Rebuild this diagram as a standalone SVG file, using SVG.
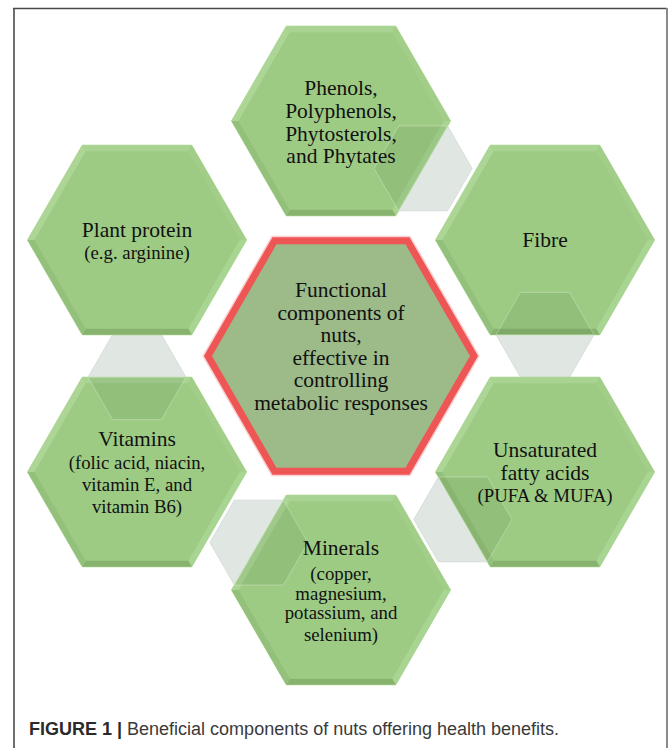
<svg xmlns="http://www.w3.org/2000/svg" xmlns:xlink="http://www.w3.org/1999/xlink" width="669" height="748" viewBox="0 0 669 748">
<style>
.t{font-family:"Liberation Serif","Times New Roman",serif;fill:#111;text-anchor:middle}
.m{font-size:21.5px}
.s{font-size:18.8px}
.cap{font-family:"Liberation Sans",Arial,sans-serif;font-size:18px;fill:#3a3a3a}
.conn{fill:#e0e7e3;stroke:#cfd9d3;stroke-width:0.8}
.ov{fill:#2f5a2c;fill-opacity:0.1;stroke:#ffffff;stroke-opacity:0.35;stroke-width:0.8}
</style>
<defs>
<g id="hex">
<polygon points="109.5,0 54.75,94.8 -54.75,94.8 -109.5,0 -54.75,-94.8 54.75,-94.8" fill="#9ecb84" stroke="#b4dc9c" stroke-width="1"/>
<polygon points="-54.75,-94.8 54.75,-94.8 51.3,-88.85 -51.3,-88.85" fill="#a9d392"/>
<polygon points="54.75,-94.8 109.5,0 102.6,0 51.3,-88.85" fill="#a2ce89"/>
<polygon points="109.5,0 54.75,94.8 51.3,88.85 102.6,0" fill="#a8d591"/>
<polygon points="54.75,94.8 -54.75,94.8 -51.3,88.85 51.3,88.85" fill="#88b36f"/>
<polygon points="-54.75,94.8 -109.5,0 -102.6,0 -51.3,88.85" fill="#93c07a"/>
<polygon points="-109.5,0 -54.75,-94.8 -51.3,-88.85 -102.6,0" fill="#acd596"/>
</g>
<polygon id="small" points="49,0 24.5,42.4 -24.5,42.4 -49,0 -24.5,-42.4 24.5,-42.4"/>
</defs>

<g id="frame">
<line x1="14" y1="8" x2="14" y2="748" stroke="#4a4a4a" stroke-width="1.6"/>
<line x1="13" y1="8.5" x2="667" y2="8.5" stroke="#4a4a4a" stroke-width="1.6"/>
<line x1="667" y1="8" x2="667" y2="748" stroke="#8a8a8a" stroke-width="2"/>
</g>

<g id="connectors">
<use xlink:href="#small" href="#small" class="conn" x="423.1" y="168.4"/>
<use xlink:href="#small" href="#small" class="conn" x="545" y="334.8"/>
<use xlink:href="#small" href="#small" class="conn" x="462.9" y="519.4"/>
<use xlink:href="#small" href="#small" class="conn" x="258.9" y="542.6"/>
<use xlink:href="#small" href="#small" class="conn" x="137" y="377.2"/>
</g>

<g id="node-center">
<polygon points="474,356 407.5,471.2 274.5,471.2 208,356 274.5,240.8 407.5,240.8" fill="none" stroke="#f7a0a0" stroke-width="10" stroke-opacity="0.5"/>
<polygon points="474,356 407.5,471.2 274.5,471.2 208,356 274.5,240.8 407.5,240.8" fill="#9dba89" stroke="#ee5656" stroke-width="7" stroke-linejoin="miter"/>
<text class="t m" x="341" y="297">Functional</text>
<text class="t m" x="341" y="319.5">components of</text>
<text class="t m" x="341" y="342">nuts,</text>
<text class="t m" x="341" y="364.5">effective in</text>
<text class="t m" x="341" y="387">controlling</text>
<text class="t m" x="341" y="409.5">metabolic responses</text>
</g>

<g id="node-phenols">
<use xlink:href="#hex" href="#hex" x="341" y="121"/>
<polygon class="ov" points="447.6,126 398.6,126 374.1,168.4 398.6,210.8"/>
<text class="t m" x="341" y="95">Phenols,</text>
<text class="t m" x="341" y="118">Polyphenols,</text>
<text class="t m" x="341" y="141">Phytosterols,</text>
<text class="t m" x="341" y="163">and Phytates</text>
</g>

<g id="node-fibre">
<use xlink:href="#hex" href="#hex" x="545" y="240"/>
<polygon class="ov" points="496,334.8 520.5,292.4 569.5,292.4 594,334.8"/>
<text class="t m" x="545" y="247">Fibre</text>
</g>

<g id="node-plant-protein">
<use xlink:href="#hex" href="#hex" x="137" y="240"/>
<text class="t m" x="137" y="237">Plant protein</text>
<text class="t s" x="137" y="259">(e.g. arginine)</text>
</g>

<g id="node-vitamins">
<use xlink:href="#hex" href="#hex" x="137" y="472"/>
<polygon class="ov" points="186,377.2 161.5,419.6 112.5,419.6 88,377.2"/>
<text class="t m" x="137" y="446">Vitamins</text>
<text class="t s" x="137" y="469">(folic acid, niacin,</text>
<text class="t s" x="137" y="491">vitamin E, and</text>
<text class="t s" x="137" y="513">vitamin B6)</text>
</g>

<g id="node-unsaturated">
<use xlink:href="#hex" href="#hex" x="545" y="472"/>
<polygon class="ov" points="438.4,477 487.4,477 511.9,519.4 487.4,561.8"/>
<text class="t m" x="545" y="457">Unsaturated</text>
<text class="t m" x="545" y="480">fatty acids</text>
<text class="t s" x="545" y="502">(PUFA &amp; MUFA)</text>
</g>

<g id="node-minerals">
<use xlink:href="#hex" href="#hex" x="341" y="590"/>
<polygon class="ov" points="283.4,500.2 307.9,542.6 283.4,585 234.4,585"/>
<text class="t m" x="341" y="555">Minerals</text>
<text class="t s" x="341" y="580">(copper,</text>
<text class="t s" x="341" y="600">magnesium,</text>
<text class="t s" x="341" y="619">potassium, and</text>
<text class="t s" x="341" y="641">selenium)</text>
</g>

<g id="caption">
<text class="cap" x="29" y="735"><tspan font-weight="bold" fill="#2a2a2a">FIGURE 1</tspan><tspan font-weight="bold" fill="#2a2a2a"> | </tspan><tspan>Beneficial components of nuts offering health benefits.</tspan></text>
</g>
</svg>
